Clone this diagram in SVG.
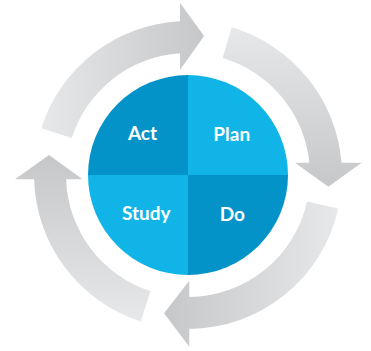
<svg xmlns="http://www.w3.org/2000/svg" width="371" height="351" viewBox="0 0 371 351">
<style>
.dark{fill:#0393c9}
.light{fill:#10b4e6}
.lbl{font-family:Lato,"Liberation Sans",sans-serif;font-weight:bold;font-size:19px;fill:#ffffff;text-anchor:middle}
</style>
<defs>
<linearGradient id="g1" gradientUnits="userSpaceOnUse" x1="41" y1="0" x2="204" y2="0"><stop offset="0" stop-color="#e7e8e9"/><stop offset="1" stop-color="#c6c7c9"/></linearGradient>
<linearGradient id="g2" gradientUnits="userSpaceOnUse" x1="0" y1="27" x2="0" y2="187"><stop offset="0" stop-color="#e7e8e9"/><stop offset="1" stop-color="#c6c7c9"/></linearGradient>
<linearGradient id="g3" gradientUnits="userSpaceOnUse" x1="339" y1="0" x2="164" y2="0"><stop offset="0" stop-color="#e7e8e9"/><stop offset="1" stop-color="#c6c7c9"/></linearGradient>
<linearGradient id="g4" gradientUnits="userSpaceOnUse" x1="0" y1="322" x2="0" y2="155"><stop offset="0" stop-color="#e7e8e9"/><stop offset="1" stop-color="#c6c7c9"/></linearGradient>
</defs>
<g id="connectors">
<path id="arrow-act-plan" fill="url(#g1)" d="M41.3,128.2 A154,154 0 0 1 180,21.2 L180,2.7 L204,36 L180,70 L180,53.3 A122,122 0 0 0 71.8,137.9 Z"/>
<path id="arrow-plan-do" fill="url(#g2)" d="M231.7,27.3 A154,154 0 0 1 341.5,162.7 L361.7,162.7 L328.3,186.7 L295,162.7 L309.4,162.7 A122,122 0 0 0 222.7,58 Z"/>
<path id="arrow-do-study" fill="url(#g3)" d="M338.3,208.6 A154,154 0 0 1 189.3,329 L189.3,346.7 L164,313.3 L189.3,280.7 L189.3,297 A122,122 0 0 0 307.1,201.6 Z"/>
<path id="arrow-study-act" fill="url(#g4)" d="M140.7,321.5 A154,154 0 0 1 34.1,179.3 L15,179.3 L49,155 L82.7,179.3 L66.1,179.3 A122,122 0 0 0 150.5,291.1 Z"/>
</g>
<g id="act">
<path class="dark" d="M188,175 L88,175 A100,100 0 0 1 188,75 Z"/>
<text class="lbl" x="142.5" y="140">Act</text>
</g>
<g id="plan">
<path class="light" d="M188,175 L188,75 A100,100 0 0 1 288,175 Z"/>
<text class="lbl" x="231.7" y="141">Plan</text>
</g>
<g id="do">
<path class="dark" d="M188,175 L288,175 A100,100 0 0 1 188,275 Z"/>
<text class="lbl" x="232.3" y="220.5">Do</text>
</g>
<g id="study">
<path class="light" d="M188,175 L188,275 A100,100 0 0 1 88,175 Z"/>
<text class="lbl" x="146.3" y="219.5">Study</text>
</g>
</svg>
